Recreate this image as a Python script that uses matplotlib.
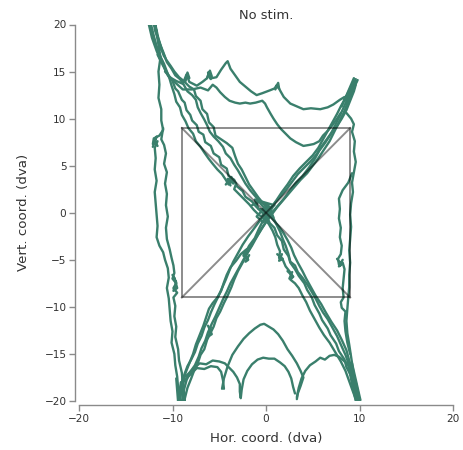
import matplotlib
matplotlib.use("Agg")
import matplotlib.pyplot as plt

# Gaze traces (degrees of visual angle), one list of (x, y) samples per trace
diag_a1 = [(-12.5,20.2),(-12.2,19.2),(-11.9,18.1),(-11.5,17.0),(-11.1,16.1),(-10.8,15.2),(-10.5,14.6),(-10.0,14.0),(-9.7,13.2),(-9.4,12.9),(-9.0,12.0),(-8.7,11.7),(-8.5,10.9),(-8.1,10.4),(-7.9,9.8),(-7.4,9.3),(-7.2,8.6),(-6.7,8.3),(-6.5,7.5),(-5.9,7.1),(-5.6,6.3),(-5.0,5.9),(-4.8,5.1),(-4.2,4.7),(-4.0,3.9),(-3.4,3.5),(-3.1,2.8),(-2.5,2.3),(-2.2,1.7),(-1.5,1.2),(-1.1,0.7),(-0.5,0.1),(0.1,-0.4),(0.4,-1.1),(0.9,-1.6),(1.2,-2.4),(1.7,-3.0),(1.9,-3.9),(2.4,-4.6),(2.6,-5.3),(3.1,-6.0),(3.5,-6.7),(4.1,-7.5),(4.4,-8.2),(4.9,-9.0),(5.2,-9.8),(5.7,-10.7),(6.0,-11.4),(6.6,-12.3),(6.9,-13.0),(7.5,-13.9),(7.8,-14.7),(8.4,-15.6),(8.6,-16.4),(9.1,-17.3),(9.3,-18.3),(9.8,-19.4),(10.0,-19.9)]
diag_a2 = [(-12.1,20.3),(-11.8,19.3),(-11.4,18.2),(-11.1,17.2),(-10.7,16.3),(-10.2,15.6),(-9.8,15.0),(-9.3,14.4),(-8.8,14.0),(-8.2,13.4),(-7.7,13.1),(-7.5,12.4),(-7.0,11.9),(-6.8,11.0),(-6.3,10.5),(-6.1,9.6),(-5.6,9.1),(-5.4,8.2),(-4.8,7.8),(-4.2,7.4),(-3.6,6.9),(-3.3,6.0),(-3.0,5.2),(-2.6,4.6),(-2.2,3.8),(-1.8,3.0),(-1.3,2.3),(-0.8,1.6),(-0.3,1.0),(0.3,0.3),(0.7,-0.4),(1.1,-1.2),(1.5,-2.0),(1.8,-2.8),(2.1,-3.5),(2.4,-4.4),(2.6,-5.2),(3.1,-5.6),(3.4,-6.3),(3.9,-6.9),(4.4,-7.6),(4.9,-8.4),(5.3,-9.1),(5.7,-9.9),(6.1,-10.6),(6.6,-11.3),(7.1,-12.2),(7.6,-13.1),(8.0,-14.0),(8.5,-15.1),(8.9,-16.2),(9.2,-17.2),(9.5,-18.2),(9.7,-19.2),(9.9,-20.0)]
diag_a3 = [(-12.3,20.0),(-12.0,18.8),(-11.7,17.7),(-11.3,16.6),(-10.9,15.8),(-10.6,15.0),(-10.3,14.2),(-10.1,13.5),(-9.8,12.6),(-9.6,11.8),(-9.2,11.2),(-9.0,10.4),(-8.6,9.7),(-8.3,9.0),(-7.8,8.4),(-7.5,7.6),(-7.0,7.0),(-6.6,6.4),(-6.1,5.7),(-5.7,5.2),(-5.2,4.6),(-4.7,4.1),(-4.3,3.5),(-4.0,3.0),(-3.6,3.6),(-3.2,3.1),(-3.4,2.5),(-2.9,2.0),(-2.4,1.5),(-1.8,0.9),(-1.3,0.3),(-0.8,-0.2),(-0.2,-0.6),(0.3,-1.2),(0.7,-1.9),(1.0,-2.6),(1.2,-3.4),(1.5,-4.1),(1.4,-4.8),(1.8,-5.0),(2.1,-5.7),(2.5,-6.2),(2.9,-6.8),(2.6,-7.1),(3.1,-7.5),(3.5,-8.0),(3.9,-8.8),(4.3,-9.5),(4.7,-10.4),(5.2,-11.3),(5.7,-12.2),(6.2,-13.0),(6.8,-13.8),(7.4,-14.8),(8.0,-15.8),(8.5,-16.8),(8.9,-17.9),(9.3,-19.0),(9.6,-19.8)]
diag_a4 = [(-11.9,19.5),(-11.5,18.3),(-11.0,17.1),(-10.6,16.0),(-10.1,15.3),(-9.7,14.6),(-9.2,14.2),(-8.8,13.6),(-8.4,12.9),(-7.9,12.5),(-7.5,12.0),(-7.3,11.2),(-7.0,10.6),(-6.6,9.9),(-6.3,9.3),(-6.0,8.6),(-5.6,8.1),(-5.1,7.6),(-4.6,7.0),(-4.3,6.3),(-3.8,5.8),(-3.4,5.1),(-3.0,4.5),(-2.6,3.8),(-2.2,3.1),(-1.7,2.4),(-1.1,1.7),(-0.6,1.0),(-0.1,0.4),(0.4,-0.3),(0.9,-0.9),(1.4,-1.5),(1.9,-2.2),(2.3,-2.9),(2.7,-3.7),(3.0,-4.5),(3.4,-5.3),(3.9,-6.2),(4.3,-7.0),(4.8,-7.9),(5.3,-8.8),(5.9,-9.7),(6.4,-10.6),(7.0,-11.6),(7.6,-12.5),(8.1,-13.5),(8.6,-14.6),(8.9,-15.7),(9.3,-16.9),(9.6,-18.0),(9.9,-19.3)]

diag_b1 = [(-9.4,-20.2),(-9.3,-19.2),(-9.0,-18.0),(-8.7,-17.1),(-8.4,-16.3),(-8.0,-15.6),(-7.6,-14.8),(-7.3,-13.9),(-6.9,-13.1),(-6.6,-12.2),(-6.2,-11.4),(-5.9,-10.6),(-5.5,-9.7),(-5.1,-8.9),(-4.7,-8.0),(-4.3,-7.1),(-3.9,-6.1),(-3.5,-5.2),(-3.0,-4.3),(-2.5,-3.4),(-1.9,-2.5),(-1.3,-1.7),(-0.7,-0.9),(-0.1,-0.2),(0.5,0.5),(1.1,1.3),(1.7,2.2),(2.3,3.0),(2.9,3.9),(3.6,4.7),(4.3,5.4),(5.0,6.1),(5.6,6.9),(6.1,7.8),(6.6,8.7),(7.1,9.6),(7.6,10.5),(8.0,11.3),(8.5,12.2),(8.9,13.0),(9.3,13.7),(9.6,14.2)]
diag_b2 = [(-9.0,-20.1),(-8.8,-18.9),(-8.5,-17.8),(-8.1,-16.9),(-7.6,-16.2),(-7.2,-15.3),(-6.9,-14.4),(-6.5,-13.6),(-6.2,-12.7),(-5.8,-11.8),(-5.4,-11.0),(-5.0,-10.1),(-4.6,-9.2),(-4.2,-8.4),(-3.8,-7.5),(-3.3,-6.6),(-2.8,-5.7),(-2.3,-4.8),(-1.8,-3.9),(-1.3,-3.0),(-0.7,-2.1),(-0.2,-1.3),(0.3,-0.5),(0.8,0.2),(1.4,0.9),(2.0,1.6),(2.6,2.4),(3.2,3.2),(3.9,3.9),(4.6,4.8),(5.2,5.7),(5.7,6.6),(6.3,7.4),(6.9,8.3),(7.4,9.3),(7.9,10.3),(8.4,11.4),(8.9,12.5),(9.4,13.5),(9.7,14.0)]
diag_b3 = [(-9.2,-19.6),(-8.9,-18.3),(-8.6,-17.0),(-8.2,-16.0),(-7.8,-15.0),(-7.5,-14.0),(-7.1,-13.0),(-6.7,-12.0),(-6.4,-11.1),(-6.1,-10.2),(-5.7,-9.6),(-5.2,-9.0),(-4.8,-8.3),(-4.5,-7.4),(-4.2,-6.6),(-3.8,-5.8),(-3.2,-5.1),(-2.7,-4.4),(-2.1,-3.9),(-2.4,-4.6),(-1.8,-3.5),(-1.2,-2.7),(-0.8,-1.8),(-0.4,-1.0),(0.1,-0.3),(0.6,0.4),(1.0,1.1),(1.6,1.8),(2.2,2.5),(2.8,3.3),(3.4,4.1),(4.1,4.8),(4.8,5.5),(5.4,6.2),(5.9,7.0),(6.5,7.8),(7.0,8.5),(7.6,9.2),(8.1,10.0),(8.6,10.9),(9.0,11.9),(9.4,12.9),(9.6,13.6)]
diag_b4 = [(-8.7,-19.8),(-8.4,-18.6),(-8.0,-17.6),(-7.7,-16.8),(-7.3,-16.0),(-7.0,-15.1),(-6.6,-14.5),(-6.3,-13.5),(-6.0,-12.9),(-5.6,-12.1),(-5.3,-11.2),(-4.9,-10.5),(-4.5,-9.6),(-4.1,-8.8),(-3.7,-7.9),(-3.4,-7.1),(-3.0,-6.2),(-2.5,-5.3),(-2.0,-4.3),(-1.5,-3.5),(-1.0,-2.6),(-0.5,-1.7),(0.0,-1.0),(0.6,-0.2),(1.2,0.6),(1.8,1.3),(2.4,2.0),(3.0,2.7),(3.7,3.5),(4.4,4.2),(5.0,5.0),(5.6,5.8),(6.2,6.7),(6.8,7.6),(7.3,8.6),(7.8,9.6),(8.3,10.6),(8.7,11.6),(9.1,12.6),(9.5,13.5)]

left_c1 = [(-11.3,16.4),(-11.5,15.0),(-11.4,13.6),(-11.5,12.2),(-11.2,11.0),(-11.2,9.8),(-11.0,8.8),(-11.4,8.2),(-12.0,7.9),(-12.1,7.3),(-11.6,7.6),(-11.9,6.9),(-11.8,5.8),(-11.9,4.6),(-11.7,3.4),(-11.9,2.2),(-11.8,1.0),(-11.7,-0.2),(-11.6,-1.4),(-11.7,-2.6),(-11.4,-3.5),(-11.0,-4.2),(-10.8,-5.0),(-10.5,-5.9),(-10.4,-6.9),(-10.6,-8.0),(-10.4,-9.1),(-10.3,-10.3),(-10.2,-11.5),(-10.0,-12.6),(-10.1,-13.8),(-9.8,-15.0),(-9.7,-16.2),(-9.5,-17.4),(-9.4,-18.6),(-9.3,-19.8)]
left_c2 = [(-11.0,9.0),(-11.2,7.8),(-10.9,7.2),(-10.7,6.3),(-10.9,5.2),(-10.6,4.3),(-10.8,3.1),(-10.6,2.0),(-10.7,0.8),(-10.5,-0.4),(-10.7,-1.6),(-10.6,-2.8),(-10.3,-3.9),(-10.1,-4.8),(-9.9,-5.6),(-9.8,-6.4),(-10.0,-7.0),(-9.6,-7.5),(-9.9,-8.0),(-9.5,-8.5),(-9.9,-9.0),(-9.7,-9.9),(-9.8,-11.0),(-9.6,-12.1),(-9.7,-13.2),(-9.4,-14.5),(-9.3,-15.7),(-9.0,-17.0),(-8.9,-18.2),(-8.8,-19.5),(-8.9,-20.1)]

right_d1 = [(8.6,10.6),(9.1,10.0),(9.4,9.4),(9.2,8.6),(9.5,7.6),(9.4,6.5),(9.6,5.4),(9.4,4.3),(9.2,3.2),(9.3,2.2),(9.1,1.0),(9.0,-0.2),(9.1,-1.5),(9.0,-2.8),(8.9,-4.0),(9.0,-5.3),(8.9,-6.6),(8.9,-7.9),(8.8,-9.0),(8.7,-10.2),(8.6,-11.5),(8.7,-12.8),(8.9,-14.0),(9.1,-15.3),(9.3,-16.6),(9.5,-17.8),(9.7,-19.0),(9.9,-19.9)]
right_d2 = [(9.2,4.2),(8.8,3.2),(8.2,2.4),(7.8,1.5),(7.9,0.4),(7.8,-0.6),(8.0,-1.6),(7.9,-2.6),(8.1,-3.5),(8.0,-4.4),(7.7,-4.9),(7.8,-5.5),(8.2,-5.3),(8.4,-6.0),(8.3,-7.0),(8.2,-8.0),(8.3,-9.0),(8.0,-9.5),(8.1,-10.1),(8.5,-10.5),(8.4,-11.5),(8.5,-12.6),(8.7,-13.8),(9.0,-15.0)]

top_e1 = [(-11.6,16.8),(-11.0,15.6),(-10.3,14.4),(-9.6,14.0),(-8.9,13.7),(-8.5,14.7),(-8.2,13.9),(-7.4,13.5),(-6.8,13.9),(-6.3,14.3),(-6.1,14.9),(-5.8,14.3),(-5.3,14.4),(-4.8,15.2),(-4.3,15.9),(-4.1,16.1),(-3.8,15.3),(-3.3,14.6),(-2.8,13.9),(-2.2,13.4),(-1.6,12.9),(-1.0,12.5),(-0.4,12.7),(0.4,13.0),(0.9,13.2),(1.2,13.6),(1.5,13.0),(1.9,12.3),(2.6,11.6),(3.3,11.3),(4.0,11.0),(4.8,11.1),(5.8,11.0),(6.6,11.2),(7.2,11.5),(7.9,12.0),(8.4,12.3)]
top_e2 = [(-10.8,15.0),(-9.9,14.0),(-8.9,13.1),(-7.9,13.1),(-7.0,13.3),(-6.2,13.0),(-5.7,13.6),(-5.3,13.3),(-4.9,12.8),(-4.4,12.3),(-3.9,11.9),(-3.3,11.7),(-2.8,11.6),(-2.2,11.7),(-1.7,11.6),(-1.1,11.7),(-0.4,11.9),(-0.1,11.6),(0.1,11.2),(0.5,10.5),(0.8,10.0),(1.2,9.4),(1.6,8.9),(2.1,8.4),(2.6,7.9),(3.2,7.5),(4.0,7.1),(4.6,7.2),(5.1,7.3),(5.7,7.6),(6.1,8.2),(6.6,8.7),(7.1,9.3),(7.6,10.0),(8.0,10.6)]

bottom_f1 = [(-4.7,-18.7),(-4.5,-17.6),(-4.1,-16.3),(-3.6,-15.1),(-3.0,-14.2),(-2.4,-13.4),(-1.8,-12.8),(-1.2,-12.3),(-0.6,-11.9),(-0.2,-11.8),(0.3,-12.1),(0.8,-12.4),(1.3,-12.9),(1.8,-13.6),(2.3,-14.5),(2.8,-15.2),(3.3,-16.0),(3.7,-16.8),(4.0,-17.5),(3.7,-18.4),(3.4,-19.2),(3.3,-19.8)]
bottom_f2 = [(-8.6,-17.4),(-7.9,-16.7),(-7.1,-16.0),(-6.4,-16.1),(-5.7,-15.7),(-5.0,-15.8),(-4.4,-16.0),(-3.9,-16.5),(-3.5,-16.9),(-3.1,-17.5),(-2.8,-18.2),(-2.8,-19.0),(-2.7,-19.7),(-2.6,-18.8),(-2.4,-17.7),(-2.0,-16.8),(-1.5,-16.1),(-0.9,-15.6),(-0.3,-15.4),(0.3,-15.5),(0.9,-15.5),(1.5,-15.9),(2.0,-16.3),(2.4,-16.9),(2.7,-17.6),(2.9,-18.5),(3.1,-19.2)]
bottom_f3 = [(-8.9,-18.0),(-8.2,-17.3),(-7.4,-16.5),(-6.6,-16.6),(-5.9,-16.3),(-5.2,-16.4),(-4.8,-16.9),(-4.6,-17.8),(-4.5,-18.7)]
bottom_f4 = [(3.3,-19.6),(3.5,-18.6),(3.8,-17.6),(4.2,-16.8),(4.7,-16.2),(5.3,-15.8),(5.8,-15.4),(6.3,-15.6),(6.8,-15.2),(7.3,-15.1),(7.8,-15.3),(8.3,-15.7),(8.7,-16.1)]

# Dense clusters where gaze dwelt (fixations)
center_fix = [(-1.5,0.8),(-0.6,1.2),(0.3,0.6),(-0.4,-0.3),(0.8,-0.5),(0.2,0.9),(-1.0,-0.4),(-0.3,-1.0),(0.6,0.2),(-0.8,0.4),(-1.2,1.4),(0.9,0.8),(-0.2,0.2)]
fix_top_left = [(-12.6,20.3),(-12.2,18.6),(-11.7,17.2),(-11.2,16.0),(-11.9,20.3),(-11.4,18.0),(-10.9,16.6)]
fix_e_a = [(-6.3,14.3),(-6.0,15.1),(-5.8,14.5),(-6.2,14.9),(-5.9,14.2),(-6.1,14.7)]
fix_e_b = [(-8.6,14.0),(-8.4,14.9),(-8.2,14.3),(-8.5,14.6)]
fix_e_c = [(1.0,13.1),(1.3,13.8),(1.4,13.2),(1.1,13.5)]
fix_a_mid = [(-4.3,3.0),(-3.7,3.8),(-3.5,3.1),(-4.1,3.6),(-3.8,2.9)]
fix_a_low1 = [(1.2,-4.4),(1.8,-4.9),(1.4,-5.1),(1.7,-4.4)]
fix_a_low2 = [(2.3,-6.2),(2.9,-6.8),(2.5,-7.0),(2.8,-6.3)]
fix_b_low1 = [(-6.2,-12.0),(-5.8,-12.9),(-6.1,-13.1),(-5.9,-12.2)]
fix_b_low2 = [(-2.4,-4.4),(-1.9,-5.0),(-2.2,-5.2),(-1.8,-4.5)]
fix_d = [(7.6,-4.9),(8.1,-5.5),(7.8,-5.7),(8.2,-5.0)]
fix_c_low = [(-10.0,-6.6),(-9.6,-7.4),(-9.9,-8.3),(-9.5,-8.0),(-9.8,-6.9)]
fix_c_up = [(-12.1,7.0),(-11.7,8.1),(-11.9,7.6),(-11.6,7.1)]
fix_bottom_left = [(-9.6,-17.6),(-9.4,-20.1),(-9.1,-18.0),(-8.7,-20.1),(-8.9,-17.4),(-9.2,-20.1)]
fix_bottom_right = [(8.7,-15.8),(9.6,-20.0),(9.2,-16.0),(10.1,-19.9),(8.9,-16.4),(9.8,-20.1)]
fix_top_right = [(8.1,11.3),(9.4,14.3),(8.6,11.6),(9.8,14.1),(8.4,12.0),(9.6,13.9)]

traces = [diag_a1, diag_a2, diag_a3, diag_a4, diag_b1, diag_b2, diag_b3, diag_b4,
          left_c1, left_c2, right_d1, right_d2, top_e1, top_e2,
          bottom_f1, bottom_f2, bottom_f3, bottom_f4, center_fix,
          fix_top_left, fix_e_a, fix_e_b, fix_e_c, fix_a_mid, fix_a_low1, fix_a_low2,
          fix_b_low1, fix_b_low2, fix_d, fix_c_low, fix_c_up,
          fix_bottom_left, fix_bottom_right, fix_top_right]

# Stimulus square half-width
square_half = 9

TRACE_COLOR = "#3a7f6c"

fig = plt.figure(figsize=(4.63, 4.5), dpi=100)
ax = fig.add_axes([79 / 463, 1 - 401 / 450, 374 / 463, 376.5 / 450])

for tr in traces:
    xs = [p[0] for p in tr]
    ys = [p[1] for p in tr]
    ax.plot(xs, ys, color=TRACE_COLOR, lw=1.7, solid_joinstyle="round",
            solid_capstyle="round", zorder=2)

h = square_half
ax.plot([-h, h, h, -h, -h], [h, h, -h, -h, h], color="black", alpha=0.45, lw=1.4, zorder=3)
ax.plot([-h, h], [h, -h], color="black", alpha=0.45, lw=1.4, zorder=3)
ax.plot([-h, h], [-h, h], color="black", alpha=0.45, lw=1.4, zorder=3)

ax.set_xlim(-20, 20)
ax.set_ylim(-20, 20)
ax.set_xticks([-20, -10, 0, 10, 20])
ax.set_yticks([-20, -15, -10, -5, 0, 5, 10, 15, 20])

for side in ("top", "right"):
    ax.spines[side].set_visible(False)
for side in ("left", "bottom"):
    ax.spines[side].set_position(("outward", 3))
    ax.spines[side].set_color("#8a8a8a")
    ax.spines[side].set_linewidth(1.0)
ax.spines["left"].set_bounds(-20, 20)
ax.spines["bottom"].set_bounds(-20, 20)

ax.tick_params(axis="both", direction="out", length=4, width=1.0, color="#8a8a8a",
               labelcolor="#333333", labelsize=7.6, pad=2)

ax.set_xlabel("Hor. coord. (dva)", fontsize=9.6, color="#333333", labelpad=6)
ax.set_ylabel("Vert. coord. (dva)", fontsize=9.6, color="#333333", labelpad=10)
ax.set_title("No stim.", fontsize=9.4, color="#333333", pad=4)

fig.savefig("out.png", dpi=100)
